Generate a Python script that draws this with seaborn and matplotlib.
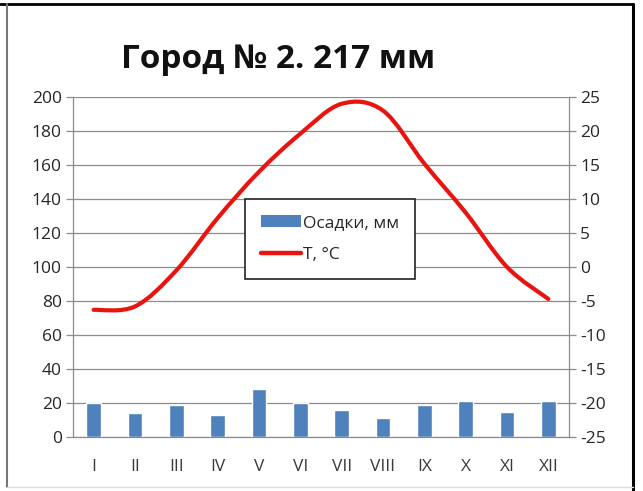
import numpy as np
import pandas as pd
import matplotlib
matplotlib.use("Agg")
import matplotlib.pyplot as plt
from matplotlib.path import Path
from matplotlib.patches import PathPatch
from matplotlib.lines import Line2D
from matplotlib.patches import Patch
import seaborn as sns

# Data
months = ["I", "II", "III", "IV", "V", "VI", "VII", "VIII", "IX", "X", "XI", "XII"]
precip = [20, 14, 19, 13, 28, 20, 16, 11, 19, 21, 15, 21]
temp = [-6.3, -5.8, -0.5, 7.2, 14.0, 19.6, 24.0, 23.0, 15.2, 8.0, 0.0, -4.7]
title = "Город № 2. 217 мм"

sns.set_theme(style="white")
plt.rcParams['font.family'] = ['Open Sans', 'DejaVu Sans']
plt.rcParams['axes.unicode_minus'] = False

fig = plt.figure(figsize=(6.43, 4.91), dpi=100)
ax = fig.add_axes([73 / 643, 54 / 491, 496 / 643, 340 / 491])

df = pd.DataFrame({"month": months, "precip": precip, "temp": temp})
sns.barplot(data=df, x="month", y="precip", color="#4F81BD", saturation=1,
            width=0.36, ax=ax, zorder=3)
ax.set_xlim(-0.5, 11.5)
ax.set_ylim(0, 200)
ax.set_yticks(np.arange(0, 201, 20))
ax.set_xlabel("")
ax.set_ylabel("")
ax.grid(axis="y", color="#8c8c8c", linewidth=0.9, zorder=0)
ax.set_axisbelow(True)

# x ticks: labels centered, small tick marks between categories
ax.set_xticks(np.arange(-0.5, 12, 1), minor=True)
ax.tick_params(axis="x", which="major", length=0, pad=16, labelsize=12.5, labelcolor="#3a3a3a")
ax.tick_params(axis="x", which="minor", length=4, width=0.9, color="#8c8c8c", direction="out")
ax.tick_params(axis="y", length=5, width=0.9, color="#8c8c8c", direction="out",
               labelsize=12.5, labelcolor="#262626", pad=3)

for s in ["left", "right", "bottom"]:
    ax.spines[s].set_color("#8c8c8c")
    ax.spines[s].set_linewidth(0.9)
ax.spines["top"].set_visible(False)

# temperature on secondary axis
ax2 = ax.twinx()
ax2.set_ylim(-25, 25)
ax2.set_yticks(np.arange(-25, 26, 5))
ax2.tick_params(axis="y", length=5, width=0.9, color="#8c8c8c", direction="out",
                labelsize=12.5, labelcolor="#262626", pad=3)
for s in ax2.spines.values():
    s.set_visible(False)
ax2.grid(False)

# smoothed line like spreadsheet smoothing (Bezier through data points)
xs = np.arange(len(temp), dtype=float)
ys = np.array(temp, dtype=float)
verts = [(xs[0], ys[0])]
codes = [Path.MOVETO]
n = len(xs)
for i in range(n - 1):
    p0 = np.array([xs[max(i - 1, 0)], ys[max(i - 1, 0)]])
    p1 = np.array([xs[i], ys[i]])
    p2 = np.array([xs[i + 1], ys[i + 1]])
    p3 = np.array([xs[min(i + 2, n - 1)], ys[min(i + 2, n - 1)]])
    c1 = p1 + (p2 - p0) / 6
    c2 = p2 - (p3 - p1) / 6
    verts += [tuple(c1), tuple(c2), tuple(p2)]
    codes += [Path.CURVE4] * 3
ax2.add_patch(PathPatch(Path(verts, codes), fill=False, edgecolor="#E8140F",
                        linewidth=3, capstyle="round", joinstyle="round", zorder=4))

# legend
handles = [Patch(facecolor="#4F81BD", edgecolor="none"),
           Line2D([0], [0], color="#E8140F", linewidth=3.2)]
leg = ax2.legend(handles, ["Осадки, мм", "Т, °C"], loc="upper left",
                 bbox_to_anchor=((245 - 73) / 496, (437 - 199) / 340),
                 frameon=True, fancybox=False, fontsize=12.5, handlelength=2.3,
                 handleheight=0.7, handletextpad=0.15, borderpad=0.9, labelspacing=0.95,
                 borderaxespad=0)
leg.get_frame().set_edgecolor("#222222")
leg.get_frame().set_linewidth(1.2)
leg.get_frame().set_facecolor("white")
leg.get_frame().set_alpha(1)

fig.text(278 / 643, 1 - 60 / 491, title, ha="center", va="center",
         fontsize=24, fontweight="bold", color="#111111")

# outer frame lines
fig.add_artist(Line2D([0, 633 / 643], [1 - 4 / 491, 1 - 4 / 491], color="black", linewidth=2))
fig.add_artist(Line2D([633 / 643, 633 / 643], [0, 1 - 4 / 491], color="black", linewidth=2.2))
fig.add_artist(Line2D([7 / 643, 7 / 643], [4 / 491, 1 - 4 / 491], color="#777777", linewidth=1.5))
fig.add_artist(Line2D([7 / 643, 633 / 643], [4 / 491, 4 / 491], color="#dddddd", linewidth=1))

fig.savefig("out.png", dpi=100)
